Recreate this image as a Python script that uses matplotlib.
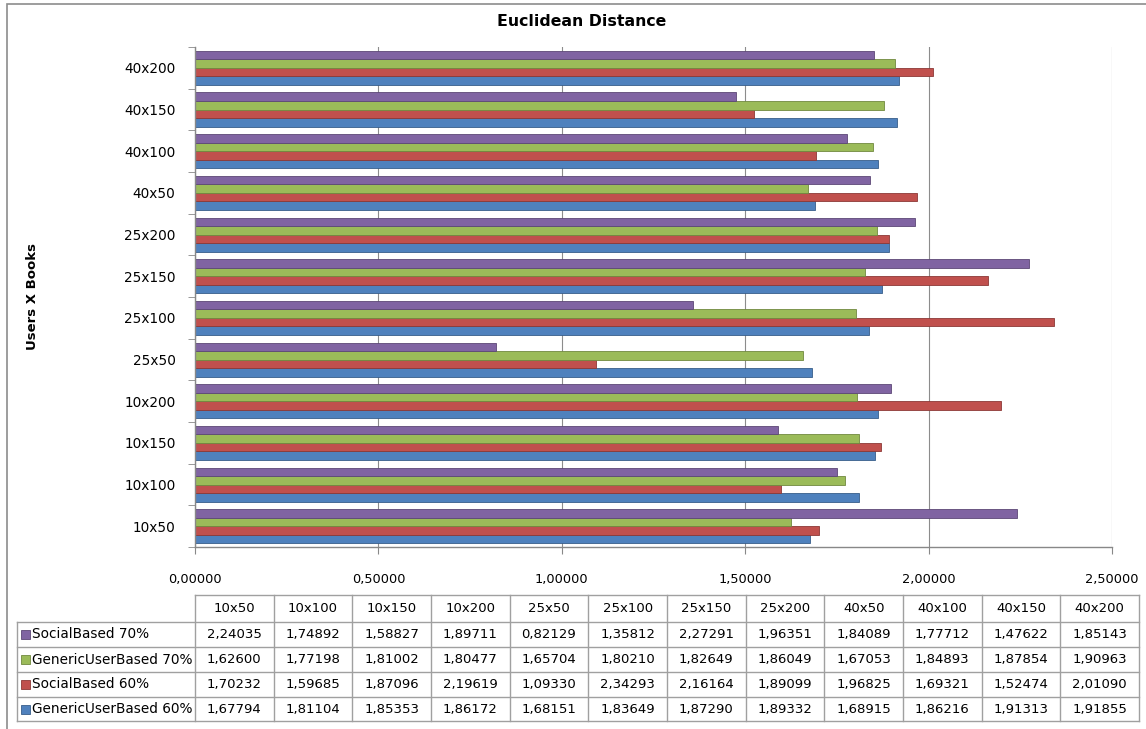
import numpy as np
import matplotlib.pyplot as plt
from matplotlib.patches import Rectangle
from matplotlib.lines import Line2D

categories = ['10x50', '10x100', '10x150', '10x200', '25x50', '25x100',
              '25x150', '25x200', '40x50', '40x100', '40x150', '40x200']

generic_60 = [1.67794, 1.81104, 1.85353, 1.86172, 1.68151, 1.83649,
              1.87290, 1.89332, 1.68915, 1.86216, 1.91313, 1.91855]
social_60 = [1.70232, 1.59685, 1.87096, 2.19619, 1.09330, 2.34293,
             2.16164, 1.89099, 1.96825, 1.69321, 1.52474, 2.01090]
generic_70 = [1.62600, 1.77198, 1.81002, 1.80477, 1.65704, 1.80210,
              1.82649, 1.86049, 1.67053, 1.84893, 1.87854, 1.90963]
social_70 = [2.24035, 1.74892, 1.58827, 1.89711, 0.82129, 1.35812,
             2.27291, 1.96351, 1.84089, 1.77712, 1.47622, 1.85143]

# bottom-to-top order inside each group
series = [
    ('GenericUserBased 60%', generic_60, '#4F81BD', '#385D8A'),
    ('SocialBased 60%', social_60, '#C0504D', '#8C3836'),
    ('GenericUserBased 70%', generic_70, '#9BBB59', '#71893F'),
    ('SocialBased 70%', social_70, '#8064A2', '#5C4776'),
]

W, H = 1146, 729
fig = plt.figure(figsize=(W / 100, H / 100), dpi=100)
plt.rcParams['font.family'] = ['DejaVu Sans']


def fx(x):
    return x / W


def fy(y):
    return 1 - y / H


# plot area in pixels
left, right, top, bottom = 195, 1112, 47, 547
ax = fig.add_axes([fx(left), fy(bottom), fx(right - left), (bottom - top) / H])

n = len(categories)
bar_h = 0.204
y0 = np.arange(n)
for i, (name, vals, col, edge) in enumerate(series):
    ypos = y0 - 1.5 * bar_h + i * bar_h
    ax.barh(ypos, vals, height=bar_h, color=col, edgecolor=edge, linewidth=0.6)

ax.set_xlim(0, 2.5)
ax.set_ylim(-0.5, n - 0.5)
xt = np.arange(0, 2.51, 0.5)
ax.set_xticks(xt)
ax.set_xticklabels([f'{v:.5f}'.replace('.', ',') for v in xt], fontsize=9.3)
ax.set_yticks(y0)
ax.set_yticklabels(categories, fontsize=9.8)
ax.set_yticks(np.arange(-0.5, n, 1), minor=True)
ax.tick_params(axis='y', which='major', length=0, pad=14)
ax.tick_params(axis='y', which='minor', length=5, color='#888888', direction='out')
ax.tick_params(axis='x', length=5, color='#888888', direction='out', pad=14)
ax.grid(axis='x', color='#8c8c8c', linewidth=0.8)
ax.set_axisbelow(True)
for s in ['top', 'right']:
    ax.spines[s].set_visible(False)
for s in ['left', 'bottom']:
    ax.spines[s].set_color('#888888')
    ax.spines[s].set_linewidth(1)

fig.text(fx(582), fy(22), 'Euclidean Distance', ha='center', va='center',
         fontsize=11.3, fontweight='bold')
fig.text(fx(32), fy(297), 'Users X Books', ha='center', va='center',
         rotation=90, fontsize=9.5, fontweight='bold')

# data table under the chart
col_w = (1139 - left) / n
row_edges = [595, 622, 647, 672, 697, 721]
label_left = 17
line_kw = dict(color='#a0a0a0', linewidth=1, transform=fig.transFigure)

fig.add_artist(Line2D([fx(left), fx(1139)], [fy(595), fy(595)], **line_kw))
for j in range(n + 1):
    x = left + j * col_w
    fig.add_artist(Line2D([fx(x), fx(x)], [fy(595), fy(721)], **line_kw))
for r in row_edges[1:]:
    fig.add_artist(Line2D([fx(label_left), fx(1139)], [fy(r), fy(r)], **line_kw))
fig.add_artist(Line2D([fx(label_left), fx(label_left)], [fy(622), fy(721)], **line_kw))

for j, c in enumerate(categories):
    fig.text(fx(left + (j + 0.5) * col_w), fy(608.5), c, ha='center',
             va='center', fontsize=9.5)

for k, (name, vals, col, edge) in enumerate(reversed(series)):
    yc = (row_edges[k + 1] + row_edges[k + 2]) / 2
    fig.add_artist(Rectangle((fx(21), fy(yc + 4.5)), 9 / W, 9 / H, facecolor=col,
                             edgecolor=edge, linewidth=0.6,
                             transform=fig.transFigure))
    fig.text(fx(32), fy(yc), name, ha='left', va='center', fontsize=9.8)
    for j, v in enumerate(vals):
        fig.text(fx(left + (j + 0.5) * col_w), fy(yc), f'{v:.5f}'.replace('.', ','),
                 ha='center', va='center', fontsize=9.5)

# outer chart border (runs off the right and bottom edges)
fig.add_artist(Rectangle((fx(7), fy(740)), (1160 - 7) / W, (740 - 4) / H,
                         fill=False, edgecolor='#8c8c8c', linewidth=1.2,
                         transform=fig.transFigure))

fig.savefig('out.png', dpi=100)
